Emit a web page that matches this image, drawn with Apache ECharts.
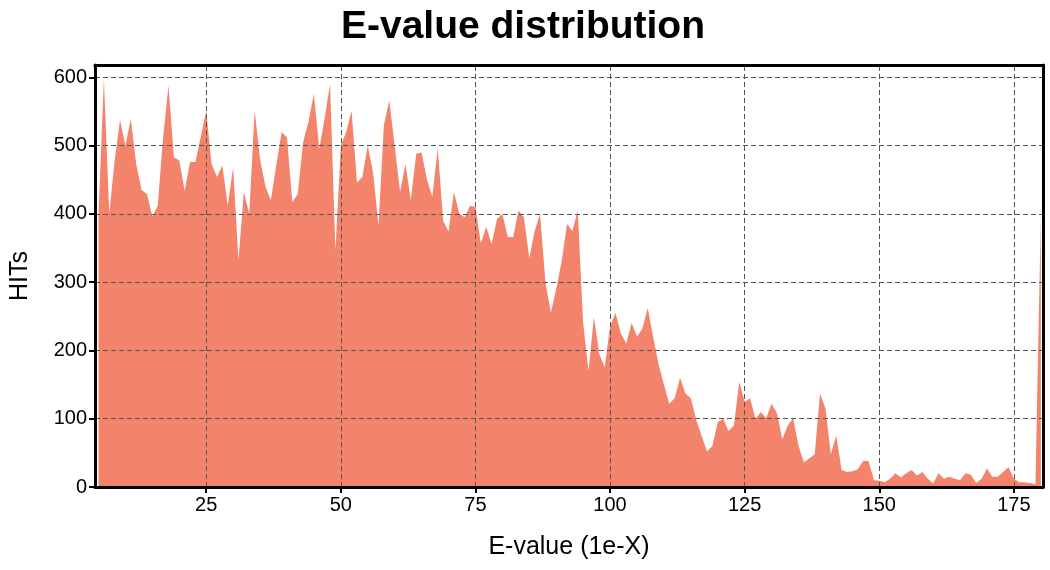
<!DOCTYPE html>
<html>
<head>
<meta charset="utf-8">
<script src="https://cdn.jsdelivr.net/npm/echarts@6/dist/echarts.min.js"></script>
<style>
html,body{margin:0;padding:0;background:#fff;}
#chart{width:1050px;height:570px;}
</style>
</head>
<body>
<div id="chart"></div>
<script>
// E-value exponent (x) and number of hits (y)
const eValues = [5,6,7,8,9,10,11,12,13,14,15,16,17,18,19,20,21,22,23,24,25,26,27,28,29,30,
31,32,33,34,35,36,37,38,39,40,41,42,43,44,45,46,47,48,49,50,51,52,53,54,55,56,57,58,59,60,
61,62,63,64,65,66,67,68,69,70,71,72,73,74,75,76,77,78,79,80,81,82,83,84,85,86,87,88,89,90,
91,92,93,94,95,96,97,98,99,100,101,102,103,104,105,106,107,108,109,110,111,112,113,114,115,
116,117,118,119,120,121,122,123,124,125,126,127,128,129,130,131,132,133,134,135,136,137,138,
139,140,141,142,143,144,145,146,147,148,149,150,151,152,153,154,155,156,157,158,159,160,161,
162,163,164,165,166,167,168,169,170,171,172,173,174,175,176,177,178,179,180];
const hits = [400,598,400,478,537,500,539,473,435,429,396,412,512,588,483,478,434,476,476,513,
551,473,454,471,412,468,332,432,400,551,480,440,420,470,520,512,417,429,505,535,576,495,540,590,
346,500,520,551,446,454,500,460,383,530,566,500,432,473,420,488,490,450,425,496,390,374,432,400,
395,412,410,357,381,356,392,400,366,366,405,395,335,375,400,300,255,290,330,385,375,405,240,170,
249,195,175,235,255,225,210,240,220,232,262,220,180,150,122,130,160,137,130,98,75,52,60,95,100,
82,90,154,125,130,100,110,101,122,108,70,90,101,60,36,42,48,137,115,48,75,25,22,23,26,38,38,10,
9,7,12,20,14,20,25,17,22,12,5,20,12,15,12,10,20,18,6,12,27,15,15,22,29,12,7,7,6,4,400];
const xTicks = [25,50,75,100,125,150,175];
const yTicks = [0,100,200,300,400,500,600];

const seriesData = eValues.map((e, i) => [e, hits[i]]);
const font = "'Liberation Sans', Arial, sans-serif";
const X_MIN = 4.35, X_MAX = 180.4, Y_MAX = 618;
const gridDash = {color:'#555', width:1, type:[5,3]};

const chart = echarts.init(document.getElementById('chart'), null, {renderer:'canvas'});
chart.setOption({
  animation:false,
  backgroundColor:'#ffffff',
  title:{
    text:'E-value distribution', left:518, top:3, textAlign:'center',
    textStyle:{fontFamily:font, fontSize:39, fontWeight:'bold', color:'#000'}
  },
  grid:{left:94, right:7, top:65, bottom:83, containLabel:false},
  xAxis:[{
    type:'value', min:X_MIN, max:X_MAX, z:10,
    name:'E-value (1e-X)', nameLocation:'middle', nameGap:48,
    nameTextStyle:{fontFamily:font, fontSize:25, color:'#000'},
    axisLine:{show:true, onZero:false, lineStyle:{color:'#000', width:3}},
    axisTick:{show:true, customValues:xTicks, length:6, lineStyle:{color:'#000', width:2}},
    axisLabel:{customValues:xTicks, fontFamily:font, fontSize:20, color:'#000', margin:8},
    splitLine:{show:false}
  },{
    type:'value', min:X_MIN, max:X_MAX, position:'top', z:10,
    axisLine:{show:true, onZero:false, lineStyle:{color:'#000', width:3}},
    axisTick:{show:false}, axisLabel:{show:false}, splitLine:{show:false}
  }],
  yAxis:[{
    type:'value', min:0, max:Y_MAX, z:10,
    name:'HITs', nameLocation:'middle', nameGap:62, nameRotate:90,
    nameTextStyle:{fontFamily:font, fontSize:25, color:'#000'},
    axisLine:{show:true, onZero:false, lineStyle:{color:'#000', width:3}},
    axisTick:{show:true, customValues:yTicks, length:6, lineStyle:{color:'#000', width:2}},
    axisLabel:{customValues:yTicks, fontFamily:font, fontSize:20, color:'#000', margin:8},
    splitLine:{show:false}
  },{
    type:'value', min:0, max:Y_MAX, position:'right', z:10,
    axisLine:{show:true, onZero:false, lineStyle:{color:'#000', width:3}},
    axisTick:{show:false}, axisLabel:{show:false}, splitLine:{show:false}
  }],
  series:[{
    type:'line', xAxisIndex:0, yAxisIndex:0, z:2,
    data:seriesData, showSymbol:false, symbol:'none', sampling:null,
    lineStyle:{width:0, color:'#f3836a'},
    areaStyle:{color:'#f3836a', opacity:1},
    markLine:{
      silent:true, symbol:['none','none'], z:5, animation:false,
      label:{show:false},
      lineStyle:gridDash,
      data:xTicks.map(v => ({xAxis:v})).concat(yTicks.filter(v => v > 0).map(v => ({yAxis:v})))
    }
  }]
});
</script>
</body>
</html>
